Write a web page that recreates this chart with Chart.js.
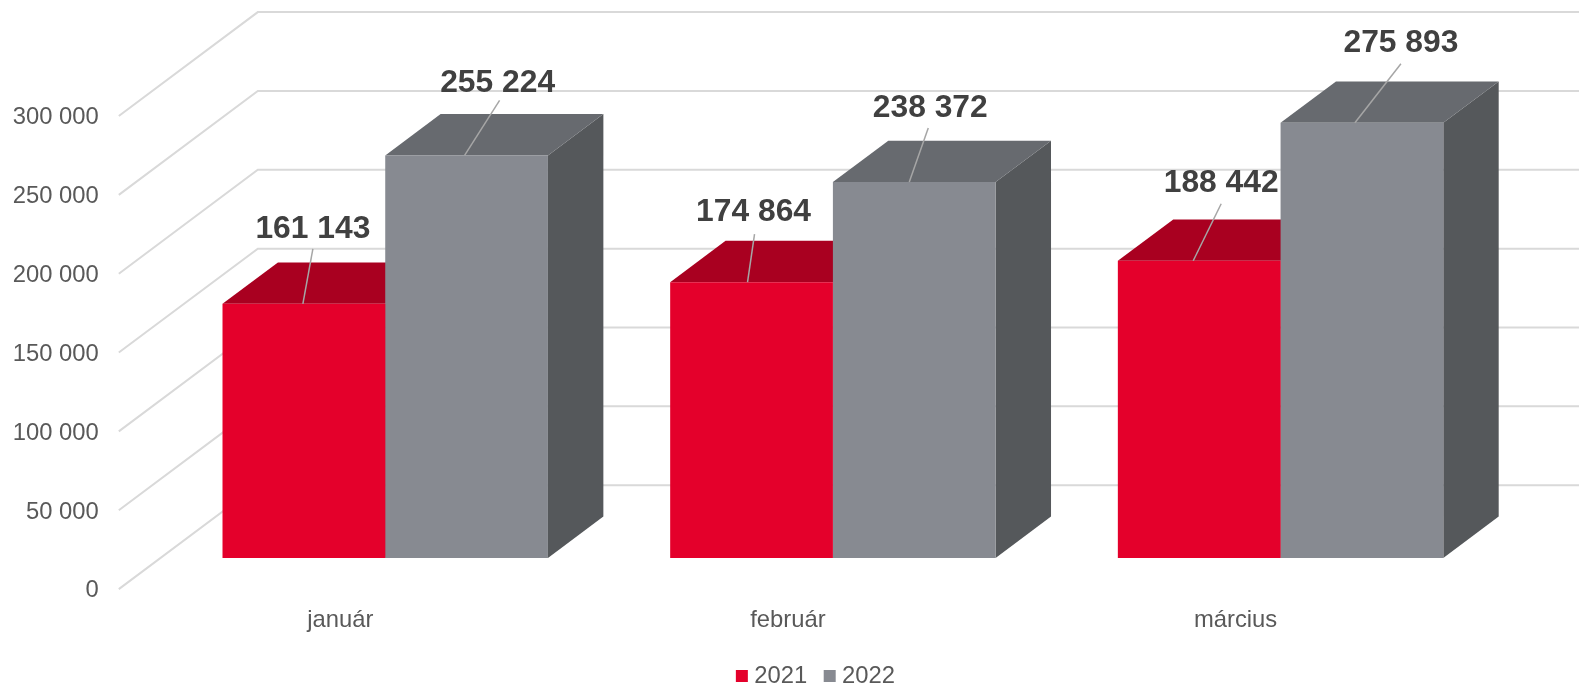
<!DOCTYPE html>
<html>
<head>
<meta charset="utf-8">
<title>chart</title>
<style>
  html, body { margin: 0; padding: 0; background: #fff; }
  canvas { display: block; }
</style>
<script src="https://cdn.jsdelivr.net/npm/chart.js@4/dist/chart.umd.min.js"></script>
</head>
<body>
<canvas id="myChart" width="1579" height="684" style="width:1579px;height:684px"></canvas>
<script>
const categories = ['január', 'február', 'március'];
const seriesNames = ['2021', '2022'];
const values2021 = [161143, 174864, 188442];
const values2022 = [255224, 238372, 275893];
const yMax = 300000;
const yStep = 50000;

const FONT = '"Liberation Sans", Arial, sans-serif';
const GRID = '#d9d9d9';
const TICK_TEXT = '#595959';

// 3D look: how far the bar runs backwards, and where the wall and the floor edge sit
const barDepth = { x: 55.4, y: 41.3 };
const wallShift = { x: 96.4, y: 72.7 };
const floorShift = { x: -42.6, y: 31.2 };
const legendShift = { x: 66, y: 2 };

const faceColors = [
    { front: '#e4002b', top: '#a90020', side: '#8a001a' },
    { front: '#878a91', top: '#676a6f', side: '#55585b' }
];

// leader start, leader end and text centre, relative to the middle of each bar's top edge
const labelPlacement = [
    [{ sx: -1, ex: 9, ey: -55, tx: 9, ty: -75 }, { sx: -4, ex: 3, ey: -48, tx: 2, ty: -70 }, { sx: -6, ex: 22, ey: -57, tx: 22, ty: -78 }],
    [{ sx: -2, ex: 33, ey: -55, tx: 31, ty: -72 }, { sx: -5, ex: 14, ey: -54, tx: 16, ty: -74 }, { sx: -7, ex: 39, ey: -59, tx: 39, ty: -80 }]
];

const spaced = (n) => String(n).replace(/\B(?=(\d{3})+$)/g, ' ');

const threeD = {
    id: 'threeD',
    afterLayout(chart) {
        // legend sits off centre in the original
        chart.legend.left += legendShift.x;
        chart.legend.right += legendShift.x;
        chart.legend.top += legendShift.y;
        chart.legend.bottom += legendShift.y;
    },
    beforeDatasetsDraw(chart) {
        const { ctx, scales: { y }, chartArea } = chart;
        ctx.save();
        ctx.strokeStyle = GRID;
        ctx.lineWidth = 2;
        y.ticks.forEach((t) => {
            const py = y.getPixelForValue(t.value);
            ctx.beginPath();
            ctx.moveTo(chartArea.left + floorShift.x, py + floorShift.y);
            ctx.lineTo(chartArea.left + wallShift.x, py - wallShift.y);
            ctx.lineTo(chart.width, py - wallShift.y);
            ctx.stroke();
        });
        // top and side faces go under all the front faces
        chart.data.datasets.forEach((ds, i) => {
            const colors = faceColors[i];
            chart.getDatasetMeta(i).data.forEach((bar) => {
                const left = bar.x - bar.width / 2;
                const right = bar.x + bar.width / 2;
                ctx.fillStyle = colors.side;
                ctx.beginPath();
                ctx.moveTo(right, bar.y);
                ctx.lineTo(right + barDepth.x, bar.y - barDepth.y);
                ctx.lineTo(right + barDepth.x, bar.base - barDepth.y);
                ctx.lineTo(right, bar.base);
                ctx.closePath();
                ctx.fill();
                ctx.fillStyle = colors.top;
                ctx.beginPath();
                ctx.moveTo(left, bar.y);
                ctx.lineTo(left + barDepth.x, bar.y - barDepth.y);
                ctx.lineTo(right + barDepth.x, bar.y - barDepth.y);
                ctx.lineTo(right, bar.y);
                ctx.closePath();
                ctx.fill();
            });
        });
        ctx.restore();
    },
    afterDatasetsDraw(chart) {
        const { ctx } = chart;
        ctx.save();
        ctx.font = 'bold 31.8px ' + FONT;
        ctx.textAlign = 'center';
        ctx.textBaseline = 'middle';
        chart.data.datasets.forEach((ds, i) => {
            chart.getDatasetMeta(i).data.forEach((bar, j) => {
                const p = labelPlacement[i][j];
                ctx.strokeStyle = '#a6a6a6';
                ctx.lineWidth = 1.5;
                ctx.beginPath();
                ctx.moveTo(bar.x + p.sx, bar.y);
                ctx.lineTo(bar.x + p.ex, bar.y + p.ey);
                ctx.stroke();
                ctx.fillStyle = '#404040';
                ctx.fillText(spaced(ds.data[j]), bar.x + p.tx, bar.y + p.ty);
            });
        });
        ctx.restore();
    }
};

var ctx = document.getElementById('myChart').getContext('2d');
var chart = new Chart(ctx, {
    type: 'bar',
    plugins: [threeD],
    data: {
        labels: categories,
        datasets: [
            { label: seriesNames[0], data: values2021, backgroundColor: faceColors[0].front },
            { label: seriesNames[1], data: values2022, backgroundColor: faceColors[1].front }
        ]
    },
    options: {
        responsive: false,
        animation: false,
        devicePixelRatio: 1,
        categoryPercentage: 0.727,
        barPercentage: 1,
        layout: { padding: { top: 84.8, right: 74.6, left: 0, bottom: -12 } },
        plugins: {
            tooltip: { enabled: false },
            legend: {
                position: 'bottom',
                labels: {
                    usePointStyle: true,
                    pointStyle: 'rect',
                    boxWidth: 1,
                    boxHeight: 12,
                    padding: 22,
                    color: TICK_TEXT,
                    font: { family: FONT, size: 23.8 }
                }
            }
        },
        scales: {
            x: {
                grid: { display: false, drawTicks: false },
                border: { display: false },
                afterFit(scale) { scale.height = 82.3; },
                ticks: {
                    color: TICK_TEXT,
                    font: { family: FONT, size: 23.8 },
                    labelOffset: -45,
                    padding: 48,
                    maxRotation: 0
                }
            },
            y: {
                min: 0,
                max: yMax,
                grid: { display: false, drawTicks: false },
                border: { display: false },
                afterFit(scale) { scale.width = 161.4; },
                ticks: {
                    stepSize: yStep,
                    color: TICK_TEXT,
                    font: { family: FONT, size: 23.8 },
                    labelOffset: 33,
                    padding: 62.7,
                    autoSkip: false,
                    callback: (v) => spaced(v)
                }
            }
        }
    }
});
</script>
</body>
</html>
